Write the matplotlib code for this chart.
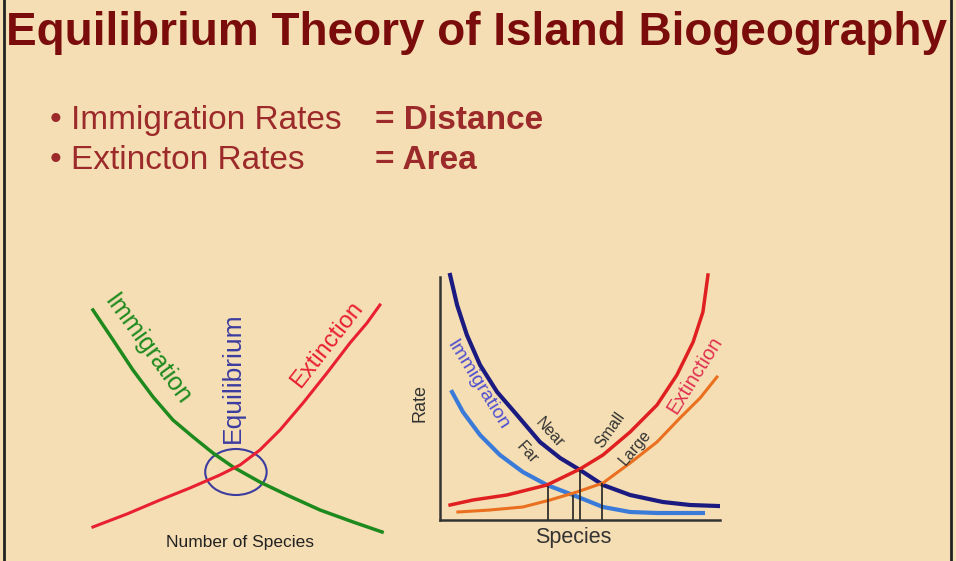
import matplotlib
matplotlib.use("Agg")
import matplotlib.pyplot as plt
from matplotlib.patches import Ellipse

plt.rcParams["font.family"] = ["Liberation Sans", "DejaVu Sans"]

BG = "#f5deb3"
TITLE_RED = "#7a0c0c"
TEXT_RED = "#9c2a2a"

title = "Equilibrium Theory of Island Biogeography"
bullet_left = ["\u2022 Immigration Rates", "\u2022 Extincton Rates"]
bullet_right = ["= Distance", "= Area"]

# left diagram (species 0-100, rate 0-100)
imm_x = [4.1, 10.5, 16.8, 23.2, 29.5, 35.9, 42.2, 48.6, 57.1, 65.7, 76.2, 86.7, 95.9]
imm_y = [92.0, 80.0, 68.0, 57.2, 48.0, 41.2, 34.8, 29.2, 23.2, 18.0, 12.0, 7.2, 3.2]
ext_x = [4.1, 14.9, 25.4, 34.9, 44.4, 50.8, 57.1, 63.5, 70.8, 78.4, 85.7, 91.1, 95.2]
ext_y = [5.2, 10.4, 16.0, 20.8, 26.0, 30.0, 36.0, 44.0, 54.8, 66.8, 78.8, 86.8, 94.0]
eq_point = (49.5, 27.2)

# right diagram
near_x = [3.6, 6.1, 9.6, 14.3, 20.4, 27.5, 35.7, 42.9, 50.0, 58.2, 67.9, 79.6, 89.3, 99.3]
near_y = [98.0, 86.0, 74.0, 62.0, 51.2, 42.0, 31.2, 24.8, 20.0, 14.0, 10.0, 7.2, 6.0, 5.6]
far_x = [4.3, 8.2, 14.3, 21.4, 29.6, 38.2, 47.5, 58.2, 67.9, 77.5, 93.9]
far_y = [51.2, 43.2, 34.0, 26.0, 19.2, 14.0, 10.0, 5.2, 3.2, 2.8, 2.8]
small_x = [3.6, 11.8, 23.9, 38.2, 50.0, 58.2, 67.9, 77.5, 84.6, 90.4, 93.9, 95.7]
small_y = [6.0, 8.0, 10.0, 14.0, 20.4, 26.0, 35.2, 46.0, 58.0, 71.2, 83.2, 98.0]
large_x = [6.4, 17.9, 29.6, 39.3, 48.9, 58.2, 67.9, 77.5, 85.7, 92.9, 98.9]
large_y = [3.2, 4.0, 5.2, 8.0, 11.2, 14.8, 22.8, 31.2, 40.8, 48.8, 57.2]
eq_x = [38.6, 47.5, 50.0, 57.9]
eq_y = [13.6, 10.0, 20.0, 14.8]

W, H = 956, 561
fig = plt.figure(figsize=(W / 100, H / 100), dpi=100, facecolor=BG)

# slide layer in pixel units
bg = fig.add_axes([0, 0, 1, 1])
bg.set_xlim(0, W)
bg.set_ylim(H, 0)
bg.axis("off")
bg.axvline(4, color="#222222", lw=2)
bg.axvline(951, color="#222222", lw=2)

bg.text(477, 33, title, color=TITLE_RED, fontsize=33, fontweight="bold",
        ha="center", va="center")
for i, (a, b) in enumerate(zip(bullet_left, bullet_right)):
    y = 120 + i * 40
    bg.text(50, y, a, color=TEXT_RED, fontsize=24, ha="left", va="center")
    bg.text(375, y, b, color=TEXT_RED, fontsize=24, fontweight="bold",
            ha="left", va="center")


def box(x0, y0, x1, y1):
    return [x0 / W, 1 - y1 / H, (x1 - x0) / W, (y1 - y0) / H]


# left diagram
ax1 = fig.add_axes(box(80, 290, 395, 540))
ax1.set_xlim(0, 100)
ax1.set_ylim(0, 100)
ax1.axis("off")
ax1.plot(imm_x, imm_y, color="#1e8a1e", lw=2.5)
ax1.plot(ext_x, ext_y, color="#e82030", lw=2.2)
ax1.add_patch(Ellipse(eq_point, 19.5, 18.4, fill=False, ec="#3c3ca0", lw=1.5))
ax1.text(21.6, 76, "Immigration", color="#1e8a1e", fontsize=18, rotation=-54,
         ha="center", va="center", rotation_mode="anchor")
ax1.text(48.6, 64.8, "Equilibrium", color="#3c3ca0", fontsize=19, rotation=90,
         ha="center", va="center", rotation_mode="anchor")
ax1.text(78.4, 78, "Extinction", color="#e82030", fontsize=17, rotation=52,
         ha="center", va="center", rotation_mode="anchor")
ax1.text(50.8, -0.8, "Number of Species", color="#222222", fontsize=12.5,
         ha="center", va="center")

# right diagram
ax2 = fig.add_axes(box(440, 270, 720, 520))
ax2.set_xlim(0, 100)
ax2.set_ylim(0, 100)
ax2.set_facecolor("none")
for s in ["top", "right"]:
    ax2.spines[s].set_visible(False)
for s in ["left", "bottom"]:
    ax2.spines[s].set_color("#333333")
    ax2.spines[s].set_linewidth(1.8)
ax2.spines["left"].set_bounds(0, 97)
ax2.set_xticks([])
ax2.set_yticks([])
ax2.plot(near_x, near_y, color="#1a1a80", lw=3)
ax2.plot(far_x, far_y, color="#3a7ad8", lw=3)
ax2.plot(small_x, small_y, color="#e02020", lw=2.5)
ax2.plot(large_x, large_y, color="#ea7020", lw=2.2)
ax2.vlines(eq_x, 0, eq_y, color="#222222", lw=1.2)
ax2.text(13.6, 54, "Immigration", color="#5050d0", fontsize=14, rotation=-58,
         ha="center", va="center", rotation_mode="anchor")
ax2.text(91, 58, "Extinction", color="#e03050", fontsize=14.5, rotation=58,
         ha="center", va="center", rotation_mode="anchor")
ax2.text(39.3, 34.8, "Near", color="#333333", fontsize=11.5, rotation=-48,
         ha="center", va="center", rotation_mode="anchor")
ax2.text(31.1, 26.8, "Far", color="#333333", fontsize=11.5, rotation=-48,
         ha="center", va="center", rotation_mode="anchor")
ax2.text(60.7, 36, "Small", color="#333333", fontsize=11.5, rotation=55,
         ha="center", va="center", rotation_mode="anchor")
ax2.text(69.6, 28.8, "Large", color="#333333", fontsize=11.5, rotation=50,
         ha="center", va="center", rotation_mode="anchor")
ax2.text(-7.1, 46.8, "Rate", color="#333333", fontsize=13, rotation=90,
         ha="center", va="center")
ax2.text(47.5, -6.8, "Species", color="#333333", fontsize=15.5,
         ha="center", va="center")

fig.savefig("out.png", dpi=100, facecolor=BG)
